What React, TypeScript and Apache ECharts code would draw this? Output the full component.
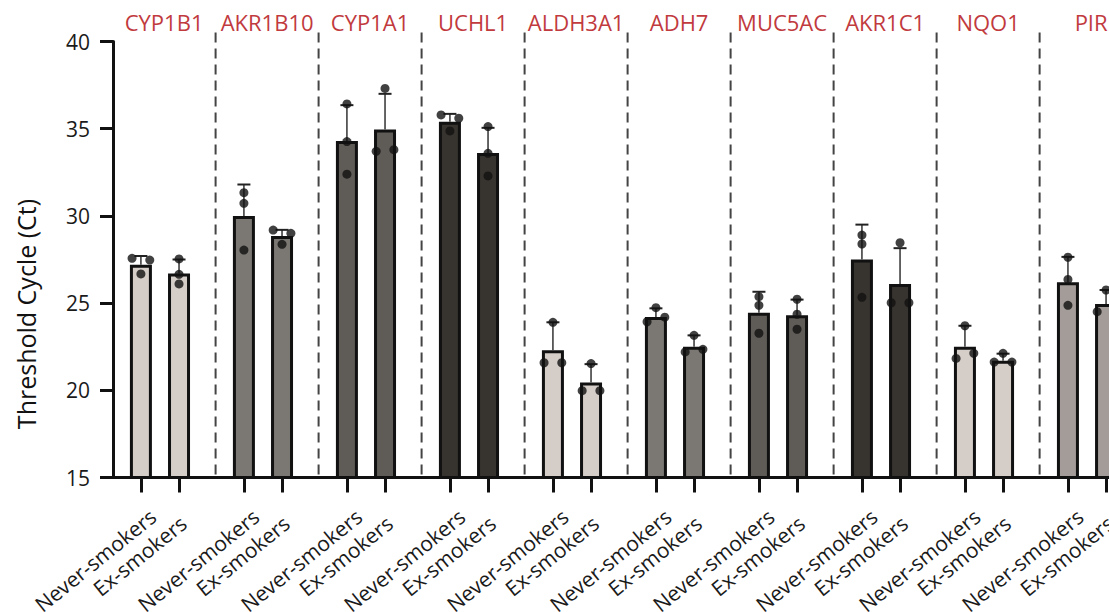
import React, { useEffect, useRef } from 'react';
import * as echarts from 'echarts';

// ---- data ----
const genes = ['CYP1B1', 'AKR1B10', 'CYP1A1', 'UCHL1', 'ALDH3A1', 'ADH7', 'MUC5AC', 'AKR1C1', 'NQO1', 'PIR'];
const groupNames = ['Never-smokers', 'Ex-smokers'];

const neverMean = [27.2, 30.0, 34.3, 35.4, 22.3, 24.2, 24.45, 27.5, 22.5, 26.2];
const neverSD = [0.5, 1.8, 2.05, 0.45, 1.6, 0.5, 1.2, 2.0, 1.2, 1.45];
const exMean = [26.7, 28.85, 34.95, 33.6, 20.45, 22.5, 24.3, 26.1, 21.7, 24.95];
const exSD = [0.8, 0.35, 2.05, 1.45, 1.05, 0.65, 0.9, 2.05, 0.4, 0.8];

const neverPoints = [
  [27.57, 27.47, 26.67],
  [31.33, 30.72, 28.04],
  [36.42, 34.26, 32.39],
  [35.79, 35.6, 34.87],
  [23.9, 21.58, 21.58],
  [24.74, 23.93, 24.19],
  [25.37, 24.87, 23.27],
  [28.9, 28.39, 25.33],
  [23.7, 21.83, 22.12],
  [27.63, 26.36, 24.87],
];
const exPoints = [
  [27.53, 26.65, 26.1],
  [29.19, 29.0, 28.37],
  [37.31, 33.7, 33.8],
  [35.12, 33.59, 32.29],
  [21.53, 19.98, 19.98],
  [23.15, 22.2, 22.35],
  [25.22, 24.36, 23.5],
  [28.46, 25.02, 25.02],
  [22.12, 21.62, 21.62],
  [25.75, 24.51, 24.6],
];

const yTicks = { min: 15, max: 40, interval: 5 };

// ---- styles / layout ----
const barFill = ['#d5cdc8', '#7b7874', '#5f5b57', '#37332f', '#d5cdc8', '#7b7874', '#5f5b57', '#37332f', '#d5cdc8', '#a39c98'];
const FONT = '"Open Sans", "Noto Sans", sans-serif';
const RED = '#c13a3e';
const UNIT_PX = 103; // pixels per gene group
const HALF = 0.185; // half distance between the two bars of a gene (axis units)
const DOT_SHIFT = 0.086;
const DIV_OFFSET = 0.54;
const NEVER_LABEL_SHIFT = 12.2 / UNIT_PX;
const EX_LABEL_SHIFT = 12.9 / UNIT_PX;
const EX_GAP = 10.7;
const XMIN = -0.456;
const XMAX = 10;
const VIEW_W = 1109;
const VIEW_H = 612;
const CHART_W = 1200; // the plot runs past the right edge, as in the reference

function jitter(vals: number[]): number[] {
  const off = vals.map(() => 0);
  for (let i = 0; i < vals.length; i++) {
    for (let j = i + 1; j < vals.length; j++) {
      if (off[i] === 0 && off[j] === 0 && Math.abs(vals[i] - vals[j]) < 0.4) {
        off[i] = -1;
        off[j] = 1;
      }
    }
  }
  return off;
}

export default function App() {
  const ref = useRef<HTMLDivElement>(null);

  useEffect(() => {
    if (!ref.current) return;
    const chart = echarts.init(ref.current, undefined, { renderer: 'svg' });

    const barData: any[] = [];
    const errData: number[][] = [];
    const dotData: number[][] = [];
    const tickVals: number[] = [];
    const labelVals: number[] = [];
    const labelTexts: string[] = [];

    genes.forEach((_, g) => {
      const sets = [
        { x: g - HALF, m: neverMean[g], s: neverSD[g], pts: neverPoints[g], name: groupNames[0], shift: NEVER_LABEL_SHIFT },
        { x: g + HALF, m: exMean[g], s: exSD[g], pts: exPoints[g], name: groupNames[1], shift: EX_LABEL_SHIFT },
      ];
      sets.forEach((d, k) => {
        barData.push({ value: [d.x, d.m], itemStyle: { color: barFill[g] } });
        errData.push([d.x, d.m, d.s]);
        const off = jitter(d.pts);
        d.pts.forEach((v, i) => dotData.push([d.x + off[i] * DOT_SHIFT, v]));
        tickVals.push(d.x);
        labelVals.push(d.x + d.shift);
        labelTexts.push(k === 0 ? d.name : d.name + '{gap| }');
      });
    });

    const dividerData = genes.slice(0, genes.length - 1).map((_, g) => [g + DIV_OFFSET, yTicks.max]);
    const geneTicks = genes.map((_, g) => g + 0.04);

    const labelFor = (v: number) => {
      let best = 0;
      let bd = Infinity;
      labelVals.forEach((t, i) => {
        const d = Math.abs(t - v);
        if (d < bd) {
          bd = d;
          best = i;
        }
      });
      return labelTexts[best];
    };
    const geneFor = (v: number) => genes[Math.round(v)] ?? '';

    const option: any = {
      animation: false,
      backgroundColor: '#ffffff',
      grid: { left: 113, top: 41.5, width: 1077, bottom: 134.5, containLabel: false, outerBoundsMode: 'none' },
      xAxis: [
        {
          type: 'value',
          min: XMIN,
          max: XMAX,
          position: 'bottom',
          axisLine: { show: true, onZero: false, lineStyle: { color: '#111', width: 3 } },
          axisTick: { show: true, customValues: tickVals, length: 15, lineStyle: { color: '#111', width: 3 } },
          axisLabel: {
            customValues: labelVals,
            rotate: 39,
            margin: 36,
            fontSize: 21,
            color: '#1a1a1a',
            fontFamily: FONT,
            formatter: labelFor,
            rich: { gap: { width: EX_GAP, fontSize: 21, fontFamily: FONT } },
          },
          splitLine: { show: false },
        },
        {
          type: 'value',
          min: XMIN,
          max: XMAX,
          position: 'top',
          axisLine: { show: false },
          axisTick: { show: false },
          splitLine: { show: false },
          axisLabel: {
            customValues: geneTicks,
            margin: 9,
            fontSize: 22,
            color: RED,
            fontFamily: FONT,
            formatter: geneFor,
          },
        },
      ],
      yAxis: {
        type: 'value',
        min: yTicks.min,
        max: yTicks.max,
        interval: yTicks.interval,
        axisLine: { show: true, onZero: false, lineStyle: { color: '#111', width: 3 } },
        axisTick: { show: true, length: 13, lineStyle: { color: '#111', width: 3 } },
        axisLabel: { margin: 23, fontSize: 21, color: '#1a1a1a', fontFamily: FONT },
        splitLine: { show: false },
      },
      graphic: [
        {
          type: 'text',
          x: 26,
          y: 314,
          rotation: Math.PI / 2,
          style: {
            text: 'Threshold Cycle (Ct)',
            fontSize: 25,
            fontFamily: FONT,
            fill: '#111',
            textAlign: 'center',
            textVerticalAlign: 'middle',
          },
        },
      ],
      series: [
        {
          type: 'custom',
          name: 'dividers',
          xAxisIndex: 0,
          yAxisIndex: 0,
          clip: false,
          silent: true,
          z: 1,
          encode: { x: 0, y: 1 },
          data: dividerData,
          renderItem: (params: any, api: any) => {
            const top = api.coord([api.value(0), yTicks.max]);
            const bot = api.coord([api.value(0), yTicks.min]);
            return {
              type: 'line',
              shape: { x1: top[0], y1: top[1] - 9, x2: bot[0], y2: bot[1] },
              style: { stroke: '#444', lineWidth: 2, lineDash: [10, 6] },
            };
          },
        },
        {
          type: 'bar',
          name: 'bars',
          xAxisIndex: 0,
          yAxisIndex: 0,
          barWidth: 22,
          z: 2,
          itemStyle: { borderColor: '#111', borderWidth: 3 },
          data: barData,
        },
        {
          type: 'custom',
          name: 'sd',
          xAxisIndex: 0,
          yAxisIndex: 0,
          clip: false,
          z: 3,
          encode: { x: 0, y: 1 },
          data: errData,
          renderItem: (params: any, api: any) => {
            const x = api.value(0);
            const m = api.value(1);
            const s = api.value(2);
            const p0 = api.coord([x, m]);
            const p1 = api.coord([x, m + s]);
            return {
              type: 'group',
              children: [
                { type: 'line', shape: { x1: p0[0], y1: p0[1], x2: p1[0], y2: p1[1] }, style: { stroke: '#333', lineWidth: 1.5 } },
                { type: 'line', shape: { x1: p1[0] - 6.5, y1: p1[1], x2: p1[0] + 6.5, y2: p1[1] }, style: { stroke: '#222', lineWidth: 2 } },
              ],
            };
          },
        },
        {
          type: 'scatter',
          name: 'replicates',
          xAxisIndex: 0,
          yAxisIndex: 0,
          symbol: 'circle',
          symbolSize: 9,
          z: 4,
          itemStyle: { color: '#111' },
          data: dotData,
        },
      ],
    };

    chart.setOption(option);
    return () => chart.dispose();
  }, []);

  return (
    <div style={{ position: 'absolute', left: 0, top: 0, width: VIEW_W, height: VIEW_H, overflow: 'hidden', background: '#fff' }}>
      <div ref={ref} style={{ width: CHART_W, height: VIEW_H }} />
    </div>
  );
}
